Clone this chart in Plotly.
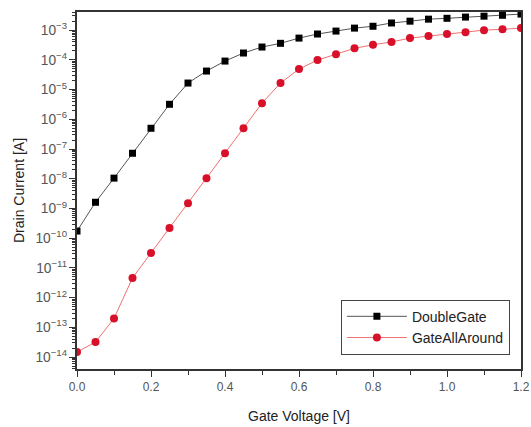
import plotly.graph_objects as go

gate_voltage = [0.0, 0.05, 0.1, 0.15, 0.2, 0.25, 0.3, 0.35, 0.4, 0.45, 0.5, 0.55, 0.6,
                0.65, 0.7, 0.75, 0.8, 0.85, 0.9, 0.95, 1.0, 1.05, 1.1, 1.15, 1.2]

double_gate = [1.74e-10, 1.62e-9, 1.05e-8, 7.2e-8, 5.0e-7, 3.2e-6, 1.66e-5, 4.2e-5, 9.1e-5,
               1.7e-4, 2.7e-4, 3.6e-4, 5.4e-4, 7.4e-4, 9.3e-4, 1.17e-3, 1.35e-3, 1.74e-3,
               2.0e-3, 2.34e-3, 2.5e-3, 2.75e-3, 2.95e-3, 3.16e-3, 3.47e-3]

gate_all_around = [1.48e-14, 3.2e-14, 2.0e-13, 4.6e-12, 3.2e-11, 2.2e-10, 1.5e-9, 1.05e-8,
                   7.2e-8, 5.0e-7, 3.5e-6, 1.66e-5, 4.9e-5, 9.8e-5, 1.55e-4, 2.45e-4, 3.2e-4,
                   4.0e-4, 5.4e-4, 6.3e-4, 7.4e-4, 8.5e-4, 1.0e-3, 1.07e-3, 1.17e-3]

font_family = "Liberation Sans, Arial, sans-serif"

fig = go.Figure()
fig.add_trace(go.Scatter(
    x=gate_voltage, y=double_gate, name="DoubleGate", mode="lines+markers",
    line=dict(color="#555555", width=1),
    marker=dict(symbol="square", size=7, color="black"),
))
fig.add_trace(go.Scatter(
    x=gate_voltage, y=gate_all_around, name="GateAllAround", mode="lines+markers",
    line=dict(color="#f07070", width=1),
    marker=dict(symbol="circle", size=8, color="#d8102a"),
))

fig.update_layout(
    width=531, height=427,
    margin=dict(l=77, r=10, t=12, b=58),
    paper_bgcolor="white", plot_bgcolor="white",
    font=dict(family=font_family, size=11, color="#222222"),
    showlegend=True,
    legend=dict(
        x=0.975, y=0.04, xanchor="right", yanchor="bottom",
        bordercolor="#444444", borderwidth=1, bgcolor="white",
        font=dict(size=14, color="#222222"),
        tracegroupgap=0, itemwidth=60,
    ),
)

fig.update_xaxes(
    range=[0, 1.2], tickmode="linear", tick0=0, dtick=0.2, tickformat=".1f",
    automargin=False,
    showgrid=False, zeroline=False,
    showline=True, linecolor="#333333", linewidth=1.5, mirror=True,
    ticks="outside", ticklen=6, tickcolor="#333333",
    minor=dict(ticks="outside", ticklen=4, dtick=0.1, tickcolor="#333333", showgrid=False),
    title=dict(text="Gate Voltage [V]", font=dict(size=14, color="#222222"), standoff=18),
    tickfont=dict(size=12, color="#555555"),
)

fig.update_yaxes(
    type="log", range=[-14.40, -2.39],
    tickmode="linear", tick0=0, dtick=1, exponentformat="power",
    automargin=False,
    showgrid=False, zeroline=False,
    showline=True, linecolor="#333333", linewidth=1.5, mirror=True,
    ticks="outside", ticklen=6, tickcolor="#333333",
    minor=dict(ticks="outside", ticklen=3, dtick="D1", tickcolor="#333333", showgrid=False),
    title=dict(text="Drain Current [A]", font=dict(size=14, color="#222222"), standoff=8),
    tickfont=dict(size=11, color="#555555"),
)

fig.write_html("out.html")
